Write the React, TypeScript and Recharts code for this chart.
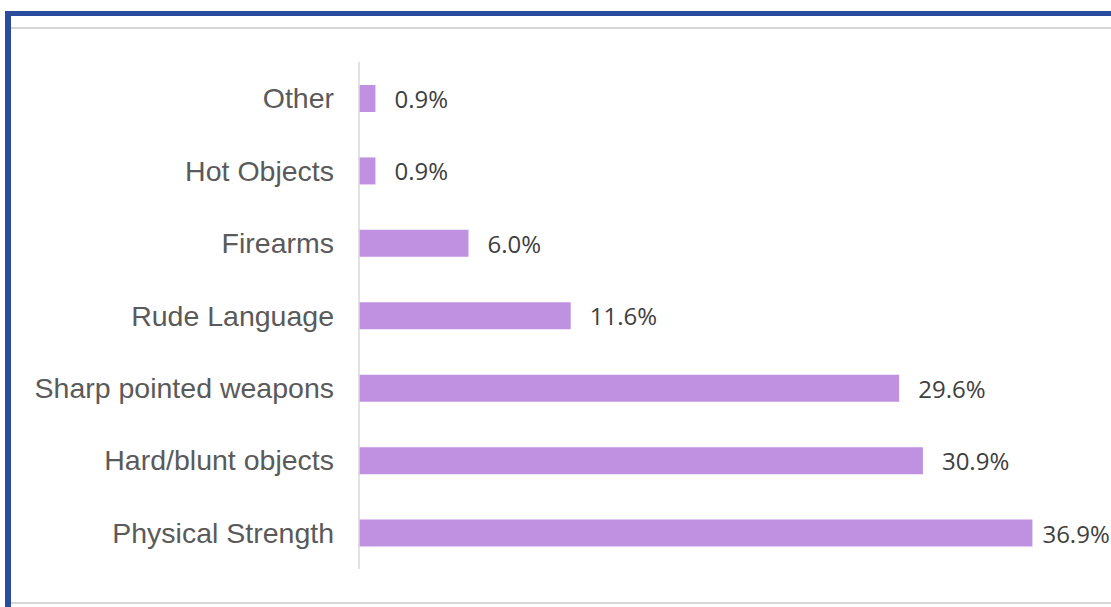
import { BarChart, Bar, XAxis, YAxis, LabelList } from "recharts";

const categories = [
  "Other",
  "Hot Objects",
  "Firearms",
  "Rude Language",
  "Sharp pointed weapons",
  "Hard/blunt objects",
  "Physical Strength",
];
const shares = [0.9, 0.9, 6.0, 11.6, 29.6, 30.9, 36.9];

const data = categories.map((name, i) => ({ name, share: shares[i] }));

const BLUE = "#2A4C9F";

// value label to the right of the bar; the longest bar sits near the edge, so its label hugs the bar
const ValueLabel = (props: any) => {
  const { x, y, width, height, value, index } = props;
  const gap = index === shares.length - 1 ? 10 : 19;
  return (
    <text
      x={Number(x) + Number(width) + gap}
      y={Number(y) + Number(height) / 2}
      dominantBaseline="central"
      fill="#404040"
      fontSize={24}
      fontFamily="Open Sans, sans-serif"
    >
      {`${Number(value).toFixed(1)}%`}
    </text>
  );
};

export default function App() {
  return (
    <div
      style={{
        position: "absolute",
        left: 0,
        top: 0,
        width: 1111,
        height: 607,
        background: "#fff",
        overflow: "hidden",
      }}
    >
      {/* frame */}
      <div style={{ position: "absolute", left: 5, top: 11, width: 6, height: 596, background: BLUE }} />
      <div style={{ position: "absolute", left: 5, top: 11, width: 1106, height: 5, background: BLUE }} />
      <div style={{ position: "absolute", left: 11, top: 27, width: 1100, height: 2, background: "#d6d6d6" }} />
      <div style={{ position: "absolute", left: 11, top: 602, width: 1100, height: 2, background: "#d6d6d6" }} />

      <div style={{ position: "absolute", left: 0, top: 0 }}>
        <BarChart
          width={1111}
          height={607}
          data={data}
          layout="vertical"
          margin={{ top: 62, right: 22, bottom: 38, left: 19 }}
        >
          <XAxis type="number" domain={[0, 40]} hide />
          <YAxis
            type="category"
            dataKey="name"
            width={340}
            tickLine={false}
            tickSize={0}
            tickMargin={25}
            axisLine={{ stroke: "#d9d9d9", strokeWidth: 1.5 }}
            tick={{ fill: "#5a5a5a", fontSize: 28.5, fontFamily: "Liberation Sans, Arial, sans-serif" }}
          />
          <Bar dataKey="share" fill="#BF91E0" barSize={27} isAnimationActive={false}>
            <LabelList dataKey="share" content={ValueLabel} />
          </Bar>
        </BarChart>
      </div>
    </div>
  );
}
